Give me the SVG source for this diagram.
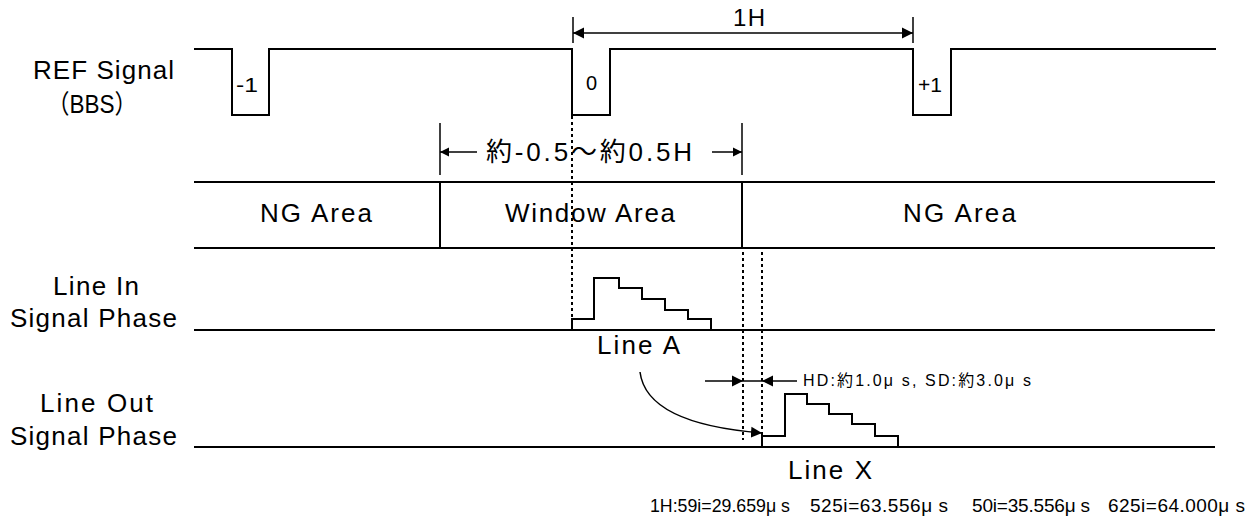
<svg xmlns="http://www.w3.org/2000/svg" width="1253" height="526" viewBox="0 0 1253 526">
<style>
.sig{fill:none;stroke:#000;stroke-width:2}
.thin{fill:none;stroke:#000;stroke-width:1.5}
.dot{fill:none;stroke:#000;stroke-width:2;stroke-dasharray:3 3}
.t{font-family:"Liberation Sans","Noto Sans CJK JP",sans-serif;fill:#000;font-size:26px}
.m{font-size:20px}
.xs{font-size:16px}
.b{font-size:19px}
</style>
<defs>
<marker id="ah" viewBox="0 0 10 10" refX="10" refY="5" markerWidth="11" markerHeight="12" markerUnits="userSpaceOnUse" orient="auto-start-reverse">
<path d="M0,0 L10,5 L0,10 z" fill="#000"/>
</marker>
<marker id="ahs" viewBox="0 0 10 10" refX="10" refY="5" markerWidth="9" markerHeight="10" markerUnits="userSpaceOnUse" orient="auto-start-reverse">
<path d="M0,0 L10,5 L0,10 z" fill="#000"/>
</marker>
</defs>
<rect width="1253" height="526" fill="#fff"/>

<g id="ref-signal">
<path class="sig" d="M194,49 H232 V115 H269 V49 H572 V115 H610 V49 H913 V115 H951 V49 H1216"/>
<text class="t" x="33" y="79" textLength="141" lengthAdjust="spacing">REF Signal</text>
<text class="t" x="47" y="113" textLength="90" lengthAdjust="spacingAndGlyphs">（BBS）</text>
<text class="t m" x="236" y="92" textLength="22" lengthAdjust="spacingAndGlyphs">-1</text>
<text class="t m" x="586" y="90">0</text>
<text class="t m" x="918" y="92" textLength="24" lengthAdjust="spacingAndGlyphs">+1</text>
</g>

<g id="dim-1h">
<line class="thin" x1="573" y1="17" x2="573" y2="43"/>
<line class="thin" x1="913" y1="17" x2="913" y2="43"/>
<text class="t" style="font-size:24px" x="733" y="26" textLength="32" lengthAdjust="spacing">1H</text>
</g>

<g id="dim-window">
<line class="thin" x1="440" y1="123" x2="440" y2="175"/>
<line class="thin" x1="742" y1="123" x2="742" y2="175"/>
<text class="t" x="486" y="161" textLength="206" lengthAdjust="spacing">約-0.5〜約0.5H</text>
</g>

<g id="areas">
<path class="sig" d="M194,182 H1215 M194,248 H1215 M440,182 V248 M742,182 V248"/>
<text class="t" x="260" y="222" textLength="112" lengthAdjust="spacing">NG Area</text>
<text class="t" x="505" y="222" textLength="170" lengthAdjust="spacing">Window Area</text>
<text class="t" x="903" y="222" textLength="113" lengthAdjust="spacing">NG Area</text>
</g>

<g id="line-in">
<path class="sig" d="M194,330 H1215"/>
<path class="sig" d="M572,330 V319 H594 V278 H619 V288 H642 V299 H665 V310 H688 V319 H711 V330"/>
<text class="t" x="53" y="295" textLength="86" lengthAdjust="spacing">Line In</text>
<text class="t" x="10" y="327" textLength="167" lengthAdjust="spacing">Signal Phase</text>
<text class="t" x="597" y="354" textLength="83" lengthAdjust="spacing">Line A</text>
</g>

<g id="line-out">
<path class="sig" d="M194,447 H1215"/>
<path class="sig" d="M762,447 V436 H785 V394 H807 V404 H829 V414 H852 V424 H875 V436 H898 V447"/>
<text class="t" x="40" y="412" textLength="113" lengthAdjust="spacing">Line Out</text>
<text class="t" x="10" y="445" textLength="167" lengthAdjust="spacing">Signal Phase</text>
<text class="t" x="788" y="479" textLength="84" lengthAdjust="spacing">Line X</text>
</g>

<g id="notes">
<text class="t xs" x="803" y="386" textLength="228" lengthAdjust="spacing">HD:約1.0μ s, SD:約3.0μ s</text>
<text class="t b" x="650" y="512" textLength="140" lengthAdjust="spacingAndGlyphs">1H:59i=29.659μ s</text>
<text class="t b" x="810" y="512" textLength="138" lengthAdjust="spacing">525i=63.556μ s</text>
<text class="t b" x="972" y="512" textLength="118" lengthAdjust="spacing">50i=35.556μ s</text>
<text class="t b" x="1108" y="512" textLength="137" lengthAdjust="spacing">625i=64.000μ s</text>
</g>

<g id="connectors">
<line class="thin" x1="573" y1="33" x2="913" y2="33" marker-start="url(#ah)" marker-end="url(#ah)"/>
<line class="thin" x1="477" y1="152" x2="440" y2="152" marker-end="url(#ahs)"/>
<line class="thin" x1="712" y1="152" x2="742" y2="152" marker-end="url(#ahs)"/>
<line class="dot" x1="572" y1="116" x2="572" y2="319"/>
<line class="dot" x1="743" y1="252" x2="743" y2="440"/>
<line class="dot" x1="762" y1="252" x2="762" y2="436"/>
<line class="thin" x1="705" y1="381" x2="743" y2="381" marker-end="url(#ah)"/>
<line class="thin" x1="743" y1="381" x2="762" y2="381"/>
<line class="thin" x1="797" y1="381" x2="762" y2="381" marker-end="url(#ah)"/>
<path class="thin" d="M640,372 C645,412 700,428 762,433" marker-end="url(#ah)"/>
</g>
</svg>
